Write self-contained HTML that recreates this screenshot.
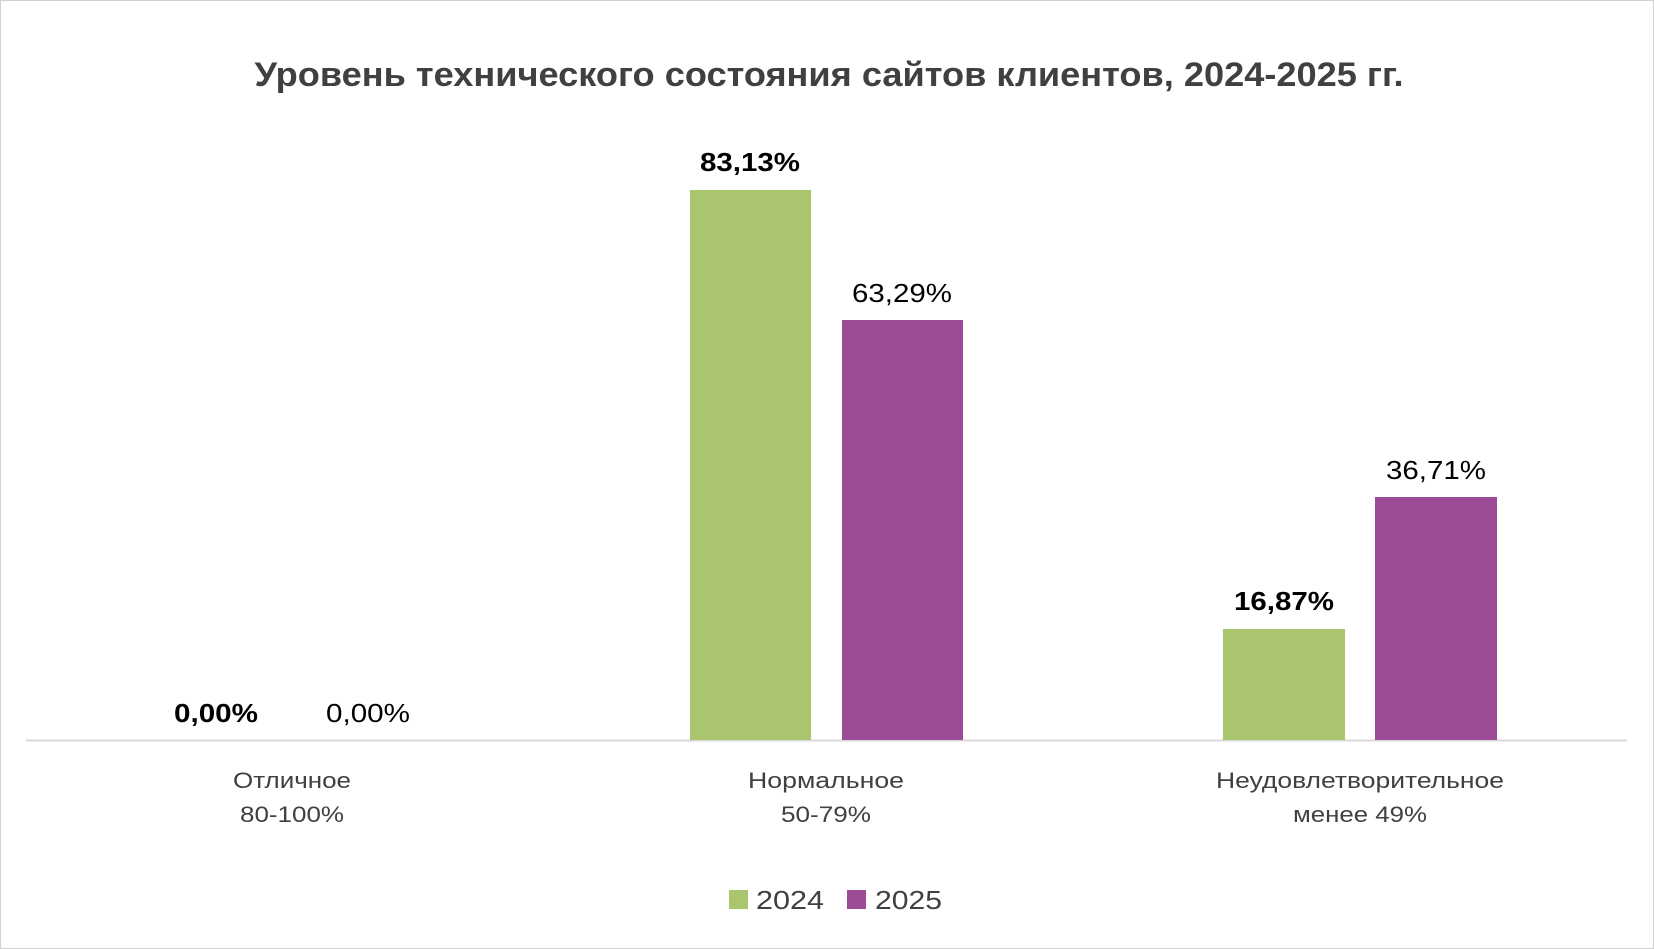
<!DOCTYPE html>
<html><head><meta charset="utf-8"><style>
html,body{margin:0;padding:0;background:#fff}
svg{display:block}
text{font-family:"Liberation Sans",sans-serif}
</style></head><body>
<svg width="1654" height="949" viewBox="0 0 1654 949">
<rect x="0.5" y="0.5" width="1653" height="948" fill="#fff" stroke="#d0d0d0"/>
<text x="829" y="86" text-anchor="middle" font-size="34" font-weight="bold" fill="#404040" textLength="1149" lengthAdjust="spacingAndGlyphs">Уровень технического состояния сайтов клиентов, 2024-2025 гг.</text>
<line x1="26" y1="740.5" x2="1627" y2="740.5" stroke="#d9d9d9" stroke-width="2"/>
<rect x="690" y="190" width="121" height="550" fill="#a9c66e"/>
<rect x="842" y="320" width="121" height="420" fill="#9c4c96"/>
<rect x="1223" y="629" width="122" height="111" fill="#a9c66e"/>
<rect x="1375" y="497" width="122" height="243" fill="#9c4c96"/>
<g font-size="26" fill="#000" text-anchor="middle">
<text x="750" y="171" font-weight="bold" textLength="100" lengthAdjust="spacingAndGlyphs">83,13%</text>
<text x="902" y="302" textLength="100" lengthAdjust="spacingAndGlyphs">63,29%</text>
<text x="1284" y="610" font-weight="bold" textLength="100" lengthAdjust="spacingAndGlyphs">16,87%</text>
<text x="1436" y="479" textLength="100" lengthAdjust="spacingAndGlyphs">36,71%</text>
<text x="216" y="722" font-weight="bold" textLength="84" lengthAdjust="spacingAndGlyphs">0,00%</text>
<text x="368" y="722" textLength="84" lengthAdjust="spacingAndGlyphs">0,00%</text>
</g>
<g font-size="22" fill="#404040" text-anchor="middle">
<text x="292" y="788" textLength="118" lengthAdjust="spacingAndGlyphs">Отличное</text>
<text x="292" y="822" textLength="104" lengthAdjust="spacingAndGlyphs">80-100%</text>
<text x="826" y="788" textLength="156" lengthAdjust="spacingAndGlyphs">Нормальное</text>
<text x="826" y="822" textLength="90" lengthAdjust="spacingAndGlyphs">50-79%</text>
<text x="1360" y="788" textLength="288" lengthAdjust="spacingAndGlyphs">Неудовлетворительное</text>
<text x="1360" y="822" textLength="134" lengthAdjust="spacingAndGlyphs">менее 49%</text>
</g>
<rect x="729" y="890" width="19" height="19" fill="#a9c66e"/>
<rect x="847" y="890" width="19" height="19" fill="#9c4c96"/>
<g font-size="26" fill="#404040">
<text x="756" y="909" textLength="68" lengthAdjust="spacingAndGlyphs">2024</text>
<text x="875" y="909" textLength="67" lengthAdjust="spacingAndGlyphs">2025</text>
</g>
</svg>
</body></html>
